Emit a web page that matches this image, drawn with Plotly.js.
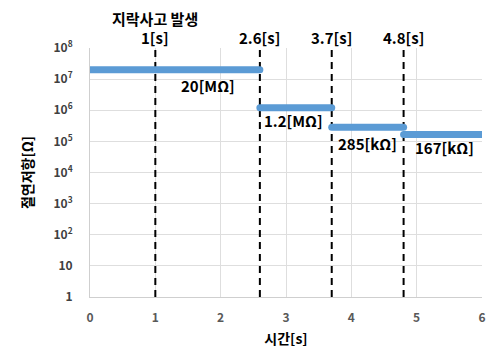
<!DOCTYPE html>
<html><head><meta charset="utf-8">
<script src="https://cdn.plot.ly/plotly-3.0.1.min.js"></script>
<style>html,body{margin:0;padding:0;background:#fff;}</style>
</head><body>
<div id="chart" style="width:489px;height:351px;"></div>
<script>
// Step segments: [start, end] time and resistance value
const segStart = [0, 2.6, 3.7, 4.8];
const segEnd = [2.6, 3.7, 4.8, 6];
const segValue = [2e7, 1.2e6, 2.85e5, 1.67e5];
const segLabels = ['20[MΩ]', '1.2[MΩ]', '285[kΩ]', '167[kΩ]'];
// Event times (dashed lines)
const eventTimes = [1, 2.6, 3.7, 4.8];
const eventLabels = ['1[s]', '2.6[s]', '3.7[s]', '4.8[s]'];
const yTickVals = [1, 10, 1e2, 1e3, 1e4, 1e5, 1e6, 1e7, 1e8];
const yTickText = ['1', '10', '10<sup>2</sup>', '10<sup>3</sup>', '10<sup>4</sup>', '10<sup>5</sup>', '10<sup>6</sup>', '10<sup>7</sup>', '10<sup>8</sup>'];
const xTickVals = [0, 1, 2, 3, 4, 5, 6];

const FONT = '"Noto Sans CJK KR", "Noto Sans", sans-serif';
const traces = [];
eventTimes.forEach(t => {
  traces.push({x: [t, t], y: [1, 1e8], mode: 'lines', type: 'scatter',
    line: {color: '#000', width: 2, dash: '7px,5px'}, hoverinfo: 'skip', showlegend: false});
});
for (let i = 0; i < segStart.length; i++) {
  traces.push({x: [segStart[i], segEnd[i]], y: [segValue[i], segValue[i]], mode: 'lines', type: 'scatter',
    line: {color: '#5B9BD5', width: 7}, showlegend: false});
}
const labelDx = [0.5, -0.03, 0.0, 0.02];
const labelDy = [-16, -13, -16, -13];
const annotations = [];
for (let i = 0; i < segStart.length; i++) {
  annotations.push({x: (segStart[i] + segEnd[i]) / 2 + labelDx[i], y: Math.log10(segValue[i]), xref: 'x', yref: 'y',
    text: '<b>' + segLabels[i] + '</b>', showarrow: false, yshift: labelDy[i],
    font: {family: FONT, size: 15, color: '#000'}});
}
eventTimes.forEach((t, i) => {
  annotations.push({x: t, y: 1, xref: 'x', yref: 'paper', text: '<b>' + eventLabels[i] + '</b>', showarrow: false,
    yanchor: 'bottom', yshift: -2, font: {family: FONT, size: 15, color: '#000'}});
});
annotations.push({x: eventTimes[0], y: 1, xref: 'x', yref: 'paper', text: '<b>지락사고 발생</b>', showarrow: false,
  yanchor: 'bottom', yshift: 17, font: {family: FONT, size: 15, color: '#000'}});

const layout = {
  width: 489, height: 351,
  margin: {l: 90, r: 7, t: 48, b: 54},
  paper_bgcolor: '#fff', plot_bgcolor: '#fff',
  xaxis: {range: [0, 6], tickvals: xTickVals, showgrid: true, gridcolor: '#dedede', zeroline: false,
    showline: true, linecolor: '#cfcfcf', ticks: '', ticklen: 0, ticklabelstandoff: 10,
    tickfont: {family: FONT, size: 12, color: '#595959', weight: 'bold'},
    title: {text: '<b>시간[s]</b>', font: {family: FONT, size: 14, color: '#000'}, standoff: 9}},
  yaxis: {type: 'log', range: [0, 8], tickvals: yTickVals, ticktext: yTickText, showgrid: true, gridcolor: '#dedede',
    zeroline: false, showline: true, linecolor: '#cfcfcf', ticks: '', ticklen: 0, ticklabelstandoff: 14,
    tickfont: {family: FONT, size: 12, color: '#404040', weight: 'bold'},
    title: {text: '<b>절연저항[Ω]</b>', font: {family: FONT, size: 14, color: '#000'}, standoff: 16}},
  annotations: annotations
};
Plotly.newPlot('chart', traces, layout, {displayModeBar: false, staticPlot: true}).then(gd => {
  gd.querySelectorAll('.cartesianlayer .plot, .cartesianlayer .plot *').forEach(el => el.removeAttribute('clip-path'));
  gd.querySelectorAll('.scatterlayer .trace .js-line').forEach(p => {
    if (p.style.stroke && p.style.stroke.indexOf('91, 155, 213') >= 0) p.style.strokeLinecap = 'round';
  });
});
</script>
</body></html>
